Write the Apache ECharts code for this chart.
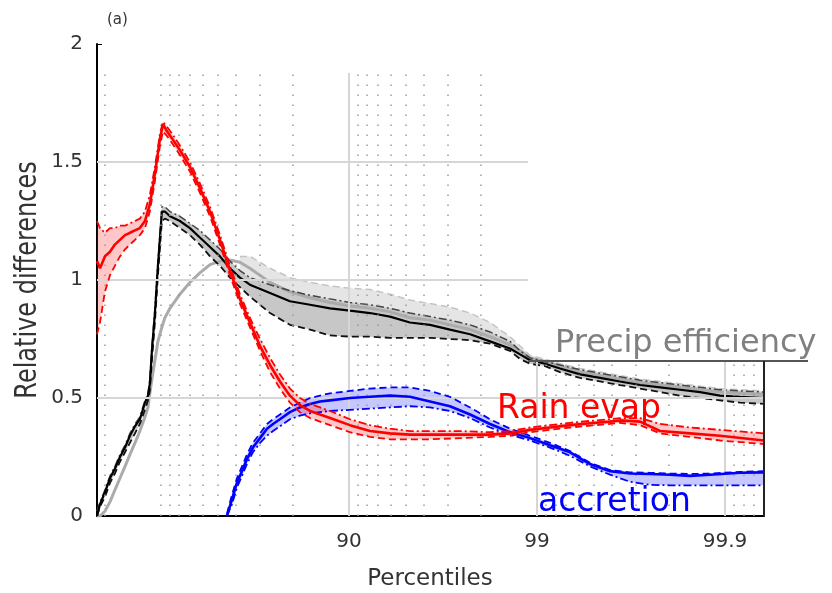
<!DOCTYPE html>
<html>
<head>
<meta charset="utf-8">
<script src="https://cdn.jsdelivr.net/npm/echarts@6/dist/echarts.min.js"></script>
<style>
html, body { margin: 0; padding: 0; background: #fff; }
#main { width: 832px; height: 593px; }
</style>
</head>
<body>
<div id="main"></div>
<script>
// x position = -log10(100 - percentile): 90 -> -1, 99 -> 0, 99.9 -> 1
var tickPos = [-1, 0, 1];
var tickLabels = ['90', '99', '99.9'];
// minor dotted grid, in "100 - percentile"
var minorStops = [200, 100, 90, 80, 70, 60, 50, 40, 30, 20, 9, 8, 7, 6, 5, 4, 3, 2,
    0.9, 0.8, 0.7, 0.6, 0.5, 0.4, 0.3, 0.2, 0.09, 0.08, 0.07, 0.06];

// precip efficiency (black + grey)
var effX = [-2.340, -2.324, -2.298, -2.271, -2.245, -2.218, -2.191, -2.165, -2.138, -2.112,
    -2.085, -2.069, -2.059, -2.048, -2.032, -2.016, -1.995, -1.979, -1.952, -1.899,
    -1.846, -1.793, -1.739, -1.686, -1.633, -1.580, -1.527, -1.420, -1.314, -1.207,
    -1.101, -0.995, -0.888, -0.782, -0.676, -0.569, -0.463, -0.356, -0.250, -0.144,
    -0.090, -0.037, 0.043, 0.122, 0.229, 0.335, 0.441, 0.548, 0.654, 0.761,
    0.867, 0.973, 1.080, 1.207];
var effMid = [0.0, 0.05, 0.10, 0.16, 0.20, 0.25, 0.29, 0.34, 0.38, 0.41,
    0.48, 0.51, 0.56, 0.70, 0.86, 1.06, 1.29, 1.29, 1.27, 1.25,
    1.22, 1.18, 1.14, 1.10, 1.05, 1.01, 0.98, 0.945, 0.91, 0.895,
    0.88, 0.87, 0.86, 0.845, 0.82, 0.81, 0.79, 0.77, 0.74, 0.71,
    0.685, 0.66, 0.645, 0.625, 0.60, 0.585, 0.57, 0.555, 0.545, 0.535,
    0.525, 0.51, 0.505, 0.50];
var effLo = [0.0, 0.04, 0.08, 0.14, 0.18, 0.23, 0.27, 0.31, 0.35, 0.39,
    0.45, 0.49, 0.53, 0.66, 0.82, 1.02, 1.25, 1.26, 1.25, 1.22,
    1.19, 1.15, 1.10, 1.06, 1.01, 0.97, 0.93, 0.86, 0.81, 0.79,
    0.765, 0.76, 0.76, 0.755, 0.755, 0.755, 0.75, 0.745, 0.73, 0.70,
    0.665, 0.645, 0.635, 0.61, 0.585, 0.57, 0.555, 0.54, 0.525, 0.51,
    0.50, 0.49, 0.48, 0.475];
var effHi = [0.02, 0.06, 0.11, 0.17, 0.21, 0.26, 0.30, 0.35, 0.39, 0.42,
    0.49, 0.52, 0.58, 0.72, 0.88, 1.08, 1.31, 1.31, 1.29, 1.27,
    1.24, 1.21, 1.17, 1.13, 1.08, 1.04, 1.01, 0.98, 0.955, 0.935,
    0.92, 0.905, 0.895, 0.88, 0.86, 0.845, 0.83, 0.81, 0.78, 0.74,
    0.70, 0.67, 0.655, 0.64, 0.62, 0.605, 0.59, 0.575, 0.565, 0.555,
    0.545, 0.535, 0.53, 0.525];
var greyMid = [0.0, 0.0, 0.02, 0.06, 0.11, 0.16, 0.21, 0.26, 0.31, 0.36,
    0.42, 0.46, 0.52, 0.58, 0.66, 0.74, 0.80, 0.84, 0.88, 0.94,
    0.99, 1.03, 1.065, 1.08, 1.085, 1.075, 1.05, 0.99, 0.95, 0.925,
    0.905, 0.89, 0.88, 0.865, 0.84, 0.83, 0.81, 0.79, 0.76, 0.725,
    0.70, 0.67, 0.655, 0.635, 0.61, 0.595, 0.58, 0.565, 0.555, 0.545,
    0.535, 0.525, 0.52, 0.515];
// light dashed upper edge, last 29 points of effX
var greyHi = [1.10, 1.10, 1.05, 1.01, 0.99, 0.975, 0.965, 0.96, 0.94, 0.915,
    0.90, 0.885, 0.86, 0.82, 0.76, 0.72, 0.68, 0.665, 0.645, 0.625,
    0.61, 0.595, 0.58, 0.57, 0.56, 0.55, 0.54, 0.535, 0.53];

// rain evaporation (red)
var redX = [-2.340, -2.324, -2.298, -2.271, -2.245, -2.218, -2.191, -2.165, -2.138, -2.112,
    -2.085, -2.059, -2.032, -2.005, -1.989, -1.968, -1.941, -1.899, -1.846, -1.793,
    -1.739, -1.686, -1.633, -1.580, -1.527, -1.473, -1.420, -1.367, -1.314, -1.261,
    -1.207, -1.154, -1.101, -0.995, -0.888, -0.782, -0.676, -0.569, -0.410, -0.250,
    -0.144, -0.037, 0.069, 0.176, 0.282, 0.388, 0.441, 0.548, 0.654, 0.814,
    0.973, 1.207];
var redMid = [1.08, 1.05, 1.10, 1.12, 1.15, 1.17, 1.19, 1.20, 1.21, 1.22,
    1.25, 1.32, 1.45, 1.60, 1.66, 1.63, 1.60, 1.55, 1.48, 1.39,
    1.29, 1.17, 1.04, 0.92, 0.82, 0.72, 0.64, 0.57, 0.51, 0.47,
    0.445, 0.43, 0.415, 0.385, 0.36, 0.35, 0.345, 0.345, 0.345, 0.345,
    0.35, 0.365, 0.375, 0.385, 0.393, 0.40, 0.405, 0.40, 0.36, 0.35,
    0.34, 0.32];
var redHi = [1.25, 1.22, 1.20, 1.22, 1.22, 1.23, 1.23, 1.24, 1.25, 1.26,
    1.29, 1.36, 1.48, 1.62, 1.67, 1.65, 1.62, 1.57, 1.50, 1.41,
    1.31, 1.19, 1.06, 0.94, 0.84, 0.75, 0.67, 0.60, 0.54, 0.50,
    0.475, 0.46, 0.445, 0.41, 0.385, 0.37, 0.36, 0.36, 0.36, 0.355,
    0.36, 0.375, 0.385, 0.395, 0.403, 0.41, 0.415, 0.415, 0.39, 0.375,
    0.365, 0.35];
var redLo = [0.77, 0.82, 0.95, 1.02, 1.06, 1.10, 1.13, 1.15, 1.17, 1.19,
    1.22, 1.29, 1.42, 1.57, 1.63, 1.61, 1.58, 1.53, 1.46, 1.37,
    1.27, 1.15, 1.02, 0.90, 0.80, 0.70, 0.61, 0.54, 0.48, 0.44,
    0.415, 0.40, 0.385, 0.355, 0.335, 0.325, 0.325, 0.325, 0.33, 0.335,
    0.34, 0.355, 0.365, 0.375, 0.383, 0.39, 0.395, 0.385, 0.35, 0.335,
    0.32, 0.305];

// accretion (blue)
var blueX = [-1.649, -1.622, -1.596, -1.569, -1.543, -1.511, -1.473, -1.436, -1.404, -1.367,
    -1.314, -1.261, -1.207, -1.154, -1.101, -0.995, -0.888, -0.782, -0.676, -0.569,
    -0.463, -0.356, -0.250, -0.144, -0.037, 0.069, 0.176, 0.282, 0.388, 0.495,
    0.601, 0.707, 0.814, 0.920, 1.080, 1.207];
var blueMid = [0.0, 0.07, 0.14, 0.19, 0.24, 0.29, 0.33, 0.37, 0.39, 0.41,
    0.44, 0.46, 0.475, 0.485, 0.49, 0.50, 0.505, 0.51, 0.505, 0.485,
    0.465, 0.43, 0.39, 0.355, 0.33, 0.30, 0.27, 0.22, 0.19, 0.18,
    0.178, 0.175, 0.17, 0.175, 0.183, 0.185];
var blueHi = [0.01, 0.09, 0.16, 0.21, 0.26, 0.31, 0.35, 0.39, 0.41, 0.43,
    0.46, 0.48, 0.50, 0.51, 0.52, 0.53, 0.54, 0.545, 0.545, 0.53,
    0.505, 0.46, 0.41, 0.37, 0.34, 0.31, 0.275, 0.225, 0.195, 0.185,
    0.183, 0.18, 0.178, 0.18, 0.187, 0.19];
var blueLo = [0.0, 0.05, 0.12, 0.17, 0.22, 0.27, 0.31, 0.34, 0.36, 0.38,
    0.41, 0.425, 0.435, 0.44, 0.445, 0.45, 0.455, 0.46, 0.465, 0.46,
    0.445, 0.415, 0.375, 0.345, 0.32, 0.29, 0.255, 0.21, 0.175, 0.145,
    0.132, 0.13, 0.13, 0.13, 0.13, 0.13];

var xMin = -2.34, xMax = 1.207;
var dotTop = 1.877, boxTop = 0.657, boxLeft = -0.048;
var FONT = 'DejaVu Sans';

function pairs(xs, ys) {
    return xs.map(function (x, i) { return [x, ys[i]]; });
}

function band(xs, lo, hi, color) {
    return {
        type: 'custom',
        silent: true,
        z: 2,
        data: xs.map(function (x, i) { return [x, lo[i], hi[i]]; }),
        encode: { x: 0, y: [1, 2] },
        renderItem: function (params, api) {
            if (params.dataIndex !== 0) return null;
            var pts = [];
            for (var i = 0; i < xs.length; i++) pts.push(api.coord([xs[i], hi[i]]));
            for (var j = xs.length - 1; j >= 0; j--) pts.push(api.coord([xs[j], lo[j]]));
            return { type: 'polygon', shape: { points: pts }, style: { fill: color } };
        }
    };
}

function line(xs, ys, color, width, type, z) {
    return {
        type: 'line',
        data: pairs(xs, ys),
        symbol: 'none',
        showSymbol: false,
        silent: true,
        z: z,
        lineStyle: { color: color, width: width, type: type }
    };
}

var dashed = [7, 4];
var dashDot = [8, 3, 2, 3];

// grid decoration lines
var gridLines = [];
minorStops.forEach(function (v) {
    var u = -Math.log10(v);
    gridLines.push([{ coord: [u, 0], lineStyle: { color: '#9a9a9a', width: 1.5, type: [1.5, 8.5] } },
        { coord: [u, u < boxLeft ? dotTop : boxTop] }]);
});
tickPos.forEach(function (u) {
    gridLines.push([{ coord: [u, 0], lineStyle: { color: '#d6d6d6', width: 2, type: 'solid' } },
        { coord: [u, u < boxLeft ? dotTop : boxTop] }]);
});
[0.5, 1, 1.5].forEach(function (v) {
    gridLines.push([{ coord: [xMin, v], lineStyle: { color: '#d6d6d6', width: 2, type: 'solid' } },
        { coord: [v < boxTop ? xMax : boxLeft, v] }]);
});

var greyX = effX.slice(effX.length - greyHi.length);
var effHiTail = effHi.slice(effHi.length - greyHi.length);

var chart = echarts.init(document.getElementById('main'));
chart.setOption({
    animation: false,
    grid: { left: 97, right: 68, top: 44, bottom: 77, outerBoundsMode: 'none' },
    xAxis: {
        type: 'value', min: xMin, max: xMax,
        axisLine: { onZero: false, lineStyle: { color: '#000', width: 2 } },
        axisTick: { customValues: tickPos, inside: true, length: 5, lineStyle: { color: '#000' } },
        axisLabel: {
            customValues: tickPos, margin: 16, color: '#333', fontSize: 20, fontFamily: FONT,
            formatter: function (v) { return tickLabels[tickPos.indexOf(v)]; }
        },
        splitLine: { show: false }
    },
    yAxis: {
        type: 'value', min: 0, max: 2, interval: 0.5,
        axisLine: { show: true, onZero: false, lineStyle: { color: '#000', width: 2 } },
        axisTick: { show: true, inside: true, length: 5, lineStyle: { color: '#000' } },
        axisLabel: { margin: 14, color: '#333', fontSize: 20, fontFamily: FONT },
        splitLine: { show: false }
    },
    series: [
        {
            type: 'line', data: [], silent: true, z: 1,
            markLine: { silent: true, symbol: ['none', 'none'], label: { show: false }, animation: false, data: gridLines }
        },
        band(greyX, effHiTail, greyHi, 'rgba(0,0,0,0.10)'),
        band(effX, effLo, effHi, 'rgba(0,0,0,0.22)'),
        band(blueX, blueLo, blueHi, 'rgba(0,0,255,0.22)'),
        band(redX, redLo, redHi, 'rgba(255,0,0,0.22)'),
        line(effX, greyMid, '#ababab', 3, 'solid', 3),
        line(greyX, greyHi, '#c4c4c4', 1.5, dashed, 3),
        line(effX, effLo, '#111', 1.8, dashed, 4),
        line(effX, effHi, '#444', 1.5, dashDot, 4),
        line(effX, effMid, '#000', 2.2, 'solid', 4),
        line(blueX, blueHi, '#0000ff', 1.8, dashed, 5),
        line(blueX, blueLo, '#0000ff', 1.8, dashDot, 5),
        line(blueX, blueMid, '#0000ff', 2.6, 'solid', 5),
        line(redX, redHi, '#ff0000', 1.8, dashDot, 6),
        line(redX, redLo, '#ff0000', 1.8, dashed, 6),
        line(redX, redMid, '#ff0000', 2.6, 'solid', 6)
    ]
});

// box edge + annotations
var pBoxL = chart.convertToPixel({ gridIndex: 0 }, [boxLeft, boxTop]);
var pBoxR = chart.convertToPixel({ gridIndex: 0 }, [xMax, 0]);
chart.setOption({
    graphic: [
        { type: 'line', shape: { x1: pBoxL[0], y1: pBoxL[1], x2: 808, y2: pBoxL[1] }, style: { stroke: '#555', lineWidth: 2 }, z: 10 },
        { type: 'line', shape: { x1: pBoxR[0], y1: pBoxL[1], x2: pBoxR[0], y2: pBoxR[1] }, style: { stroke: '#222', lineWidth: 2 }, z: 10 },
        { type: 'text', x: 555, y: 344, z: 11, style: { text: 'Precip efficiency', fill: '#808080', font: '32px "DejaVu Sans"', verticalAlign: 'middle' } },
        { type: 'text', x: 497, y: 409, z: 11, style: { text: 'Rain evap', fill: '#ff0000', font: '33px "DejaVu Sans"', verticalAlign: 'middle' } },
        { type: 'text', x: 538, y: 502, z: 11, style: { text: 'accretion', fill: '#0000ff', font: '33px "DejaVu Sans"', verticalAlign: 'middle' } },
        { type: 'text', x: 430, y: 579, style: { text: 'Percentiles', fill: '#333', font: '23px "DejaVu Sans"', align: 'center', verticalAlign: 'middle' } },
        { type: 'text', x: 28, y: 280, rotation: Math.PI / 2, scaleY: 1.25, style: { text: 'Relative differences', fill: '#333', font: '24px "DejaVu Sans"', align: 'center', verticalAlign: 'middle' } },
        { type: 'text', x: 107, y: 20, style: { text: '(a)', fill: '#333', font: '15px "DejaVu Sans"', verticalAlign: 'middle' } }
    ]
});
</script>
</body>
</html>
